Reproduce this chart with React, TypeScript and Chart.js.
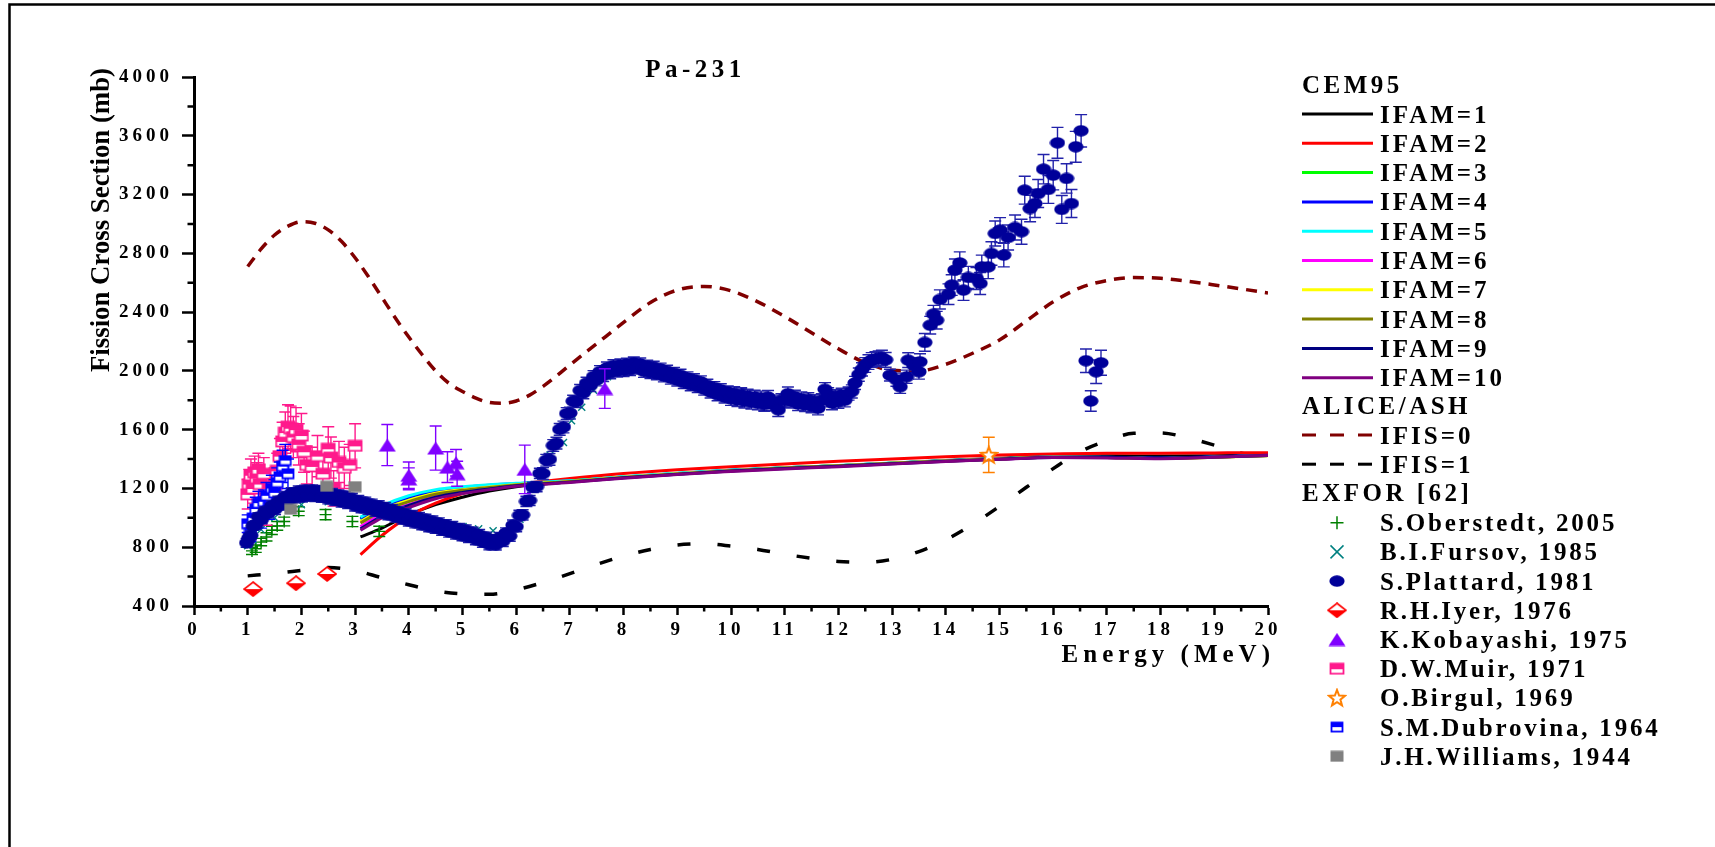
import React, { useEffect, useRef } from 'react';
import { Chart, registerables } from 'chart.js';

Chart.register(...registerables);

const SERIF = '"Liberation Serif", "Times New Roman", Times, serif';

// ---------- text ----------
const TITLE = 'Pa-231';
const X_TITLE = 'Energy (MeV)';
const Y_TITLE = 'Fission Cross Section (mb)';
const LEGEND_HEADERS = ['CEM95', 'ALICE/ASH', 'EXFOR [62]'];

// ---------- ticks ----------
const X_TICKS = [0, 1, 2, 3, 4, 5, 6, 7, 8, 9, 10, 11, 12, 13, 14, 15, 16, 17, 18, 19, 20];
const X_MINOR = [0.5, 1.5, 2.5, 3.5, 4.5, 5.5, 6.5, 7.5, 8.5, 9.5, 10.5, 11.5, 12.5, 13.5, 14.5, 15.5, 16.5, 17.5, 18.5, 19.5];
const Y_TICKS = [400, 800, 1200, 1600, 2000, 2400, 2800, 3200, 3600, 4000];
const Y_MINOR = [600, 1000, 1400, 1800, 2200, 2600, 3000, 3400, 3800];

// ---------- CEM95 curves ----------
const CEM_E = [3.1, 3.5, 4, 4.5, 5, 5.5, 6, 7, 8, 9, 10, 11, 12, 13, 14, 15, 16, 17, 18, 19, 20];
const CEM_LABELS = ['IFAM=1', 'IFAM=2', 'IFAM=3', 'IFAM=4', 'IFAM=5', 'IFAM=6', 'IFAM=7', 'IFAM=8', 'IFAM=9', 'IFAM=10'];
const CEM_COLORS = ['#000000', '#FF0000', '#00FF00', '#0000FF', '#00FFFF', '#FF00FF', '#FFFF00', '#808000', '#000080', '#800080'];
const IFAM1 = [870, 930, 1020, 1090, 1140, 1182, 1212, 1245, 1275, 1300, 1322, 1340, 1355, 1372, 1390, 1405, 1418, 1422, 1420, 1422, 1428];
const IFAM2 = [750, 880, 1010, 1100, 1165, 1205, 1228, 1268, 1302, 1328, 1348, 1367, 1385, 1400, 1415, 1427, 1435, 1440, 1440, 1442, 1443];
const IFAM3 = [990, 1070, 1135, 1180, 1203, 1220, 1230, 1250, 1278, 1302, 1323, 1340, 1355, 1372, 1388, 1402, 1414, 1412, 1405, 1413, 1425];
const IFAM4 = [995, 1075, 1140, 1185, 1207, 1222, 1232, 1250, 1278, 1302, 1323, 1340, 1355, 1372, 1388, 1402, 1414, 1413, 1407, 1415, 1426];
const IFAM5 = [1005, 1082, 1150, 1192, 1212, 1226, 1235, 1252, 1279, 1303, 1324, 1341, 1356, 1373, 1388, 1402, 1413, 1410, 1404, 1414, 1424];
const IFAM6 = [940, 1025, 1090, 1145, 1178, 1200, 1220, 1245, 1274, 1298, 1320, 1338, 1353, 1370, 1386, 1400, 1412, 1410, 1404, 1413, 1425];
const IFAM7 = [975, 1055, 1120, 1168, 1192, 1210, 1226, 1248, 1276, 1300, 1321, 1339, 1354, 1371, 1387, 1401, 1413, 1411, 1403, 1412, 1422];
const IFAM8 = [965, 1045, 1110, 1160, 1187, 1207, 1224, 1247, 1275, 1299, 1321, 1339, 1354, 1371, 1387, 1401, 1413, 1411, 1404, 1413, 1424];
const IFAM9 = [925, 1010, 1085, 1140, 1173, 1197, 1218, 1243, 1272, 1297, 1318, 1336, 1351, 1368, 1385, 1399, 1411, 1412, 1407, 1414, 1425];
const IFAM10 = [915, 1000, 1070, 1130, 1165, 1192, 1215, 1240, 1270, 1295, 1315, 1333, 1348, 1366, 1383, 1398, 1410, 1408, 1402, 1412, 1424];
const CEM_VALUES = [IFAM1, IFAM2, IFAM3, IFAM4, IFAM5, IFAM6, IFAM7, IFAM8, IFAM9, IFAM10];

// ---------- ALICE/ASH curves ----------
const IFIS_LABELS = ['IFIS=0', 'IFIS=1'];
const IFIS_COLORS = ['#800000', '#000000'];
const IFIS0_E = [1, 1.25, 1.5, 1.75, 2, 2.25, 2.5, 2.75, 3, 3.25, 3.5, 3.75, 4, 4.25, 4.5, 4.75, 5, 5.25, 5.5, 5.75, 6, 6.25, 6.5, 6.75, 7, 7.5, 8, 8.5, 9, 9.5, 10, 10.5, 11, 11.5, 12, 12.5, 13, 13.5, 14, 14.5, 15, 15.5, 16, 16.5, 17, 17.5, 18, 18.5, 19, 19.5, 20];
const IFIS0_V = [2710, 2830, 2925, 2985, 3015, 3005, 2960, 2880, 2770, 2640, 2500, 2360, 2230, 2110, 2000, 1915, 1860, 1815, 1785, 1780, 1795, 1835, 1895, 1965, 2040, 2185, 2330, 2465, 2550, 2575, 2545, 2470, 2370, 2260, 2150, 2055, 2005, 2000, 2045, 2120, 2210, 2340, 2470, 2565, 2615, 2635, 2630, 2610, 2585, 2558, 2530];
const IFIS1_E = [1, 1.5, 2, 2.5, 3, 3.5, 4, 4.5, 5, 5.5, 6, 6.5, 7, 7.5, 8, 8.5, 9, 9.5, 10, 10.5, 11, 11.5, 12, 12.5, 13, 13.5, 14, 14.5, 15, 15.5, 16, 16.5, 17, 17.5, 18, 18.5, 19, 19.5, 20];
const IFIS1_V = [605, 622, 642, 662, 642, 592, 545, 503, 483, 480, 510, 560, 620, 683, 740, 785, 815, 823, 808, 785, 752, 725, 703, 697, 718, 770, 850, 955, 1078, 1208, 1335, 1450, 1525, 1575, 1578, 1545, 1495, 1440, 1415];

// ---------- EXFOR data: [E, sigma, dSigma, dE] ----------
const EXFOR_LABELS = ['S.Oberstedt, 2005', 'B.I.Fursov, 1985', 'S.Plattard, 1981', 'R.H.Iyer, 1976', 'K.Kobayashi, 1975', 'D.W.Muir, 1971', 'O.Birgul, 1969', 'S.M.Dubrovina, 1964', 'J.H.Williams, 1944'];

const OBERSTEDT = [[1.08, 775, 25], [1.15, 790, 25], [1.25, 835, 25], [1.35, 870, 28], [1.45, 915, 28], [1.55, 945, 30], [1.68, 975, 30], [1.95, 1045, 30], [2.45, 1022, 35], [2.95, 975, 35], [3.45, 908, 35]];

const FURSOV = [[1.0, 810], [1.1, 850], [1.25, 920], [1.5, 1000], [2.0, 1090], [2.5, 1110], [3.0, 1080], [3.5, 1030], [4.0, 985], [4.5, 950], [4.83, 950], [5.01, 940], [5.3, 925], [5.57, 912], [5.85, 885], [6.07, 990], [6.35, 1200], [6.63, 1427], [6.88, 1513], [7.03, 1661], [7.22, 1752], [7.44, 1869], [7.7, 1960]];

const PLATTARD = [
  [0.98, 830, 30], [1.02, 862, 30], [1.06, 880, 30], [1.10, 945, 30], [1.15, 950, 30], [1.20, 1005, 30], [1.26, 990, 30], [1.32, 1045, 30], [1.38, 1030, 30], [1.45, 1082, 35],
  [1.51, 1058, 35], [1.57, 1112, 35], [1.63, 1088, 35], [1.69, 1142, 35], [1.76, 1118, 35], [1.82, 1170, 35], [1.88, 1138, 35], [1.95, 1182, 35], [2.01, 1143, 35], [2.07, 1187, 35],
  [2.13, 1150, 35], [2.20, 1188, 35], [2.26, 1146, 35], [2.32, 1185, 35], [2.38, 1140, 35], [2.44, 1177, 35], [2.50, 1130, 35], [2.57, 1165, 35], [2.63, 1118, 35], [2.69, 1155, 35],
  [2.75, 1108, 35], [2.81, 1146, 35], [2.87, 1098, 35], [2.94, 1132, 35], [3.00, 1082, 35], [3.06, 1117, 35], [3.12, 1070, 35], [3.19, 1106, 35], [3.25, 1057, 35], [3.31, 1092, 35],
  [3.38, 1045, 35], [3.44, 1081, 35], [3.50, 1034, 35], [3.56, 1070, 35], [3.62, 1022, 35], [3.69, 1056, 35], [3.75, 1006, 35], [3.81, 1041, 35], [3.88, 992, 35], [3.94, 1027, 35],
  [4.00, 979, 35], [4.06, 1015, 35], [4.12, 967, 35], [4.19, 1002, 35], [4.25, 954, 35], [4.31, 989, 35], [4.38, 940, 35], [4.44, 977, 35], [4.50, 929, 35], [4.56, 965, 35],
  [4.62, 916, 35], [4.69, 952, 35], [4.75, 904, 35], [4.81, 940, 35], [4.88, 891, 35], [4.94, 927, 35], [5.00, 879, 35], [5.06, 916, 35], [5.12, 867, 35], [5.19, 902, 35],
  [5.25, 852, 35], [5.31, 886, 35], [5.38, 835, 35], [5.44, 868, 35], [5.50, 817, 35], [5.56, 851, 35], [5.62, 816, 35], [5.69, 866, 35], [5.75, 840, 35], [5.81, 897, 35],
  [5.88, 876, 35], [5.94, 950, 35], [6.00, 940, 35], [6.06, 1017, 35], [6.12, 1020, 35], [6.19, 1112, 35], [6.25, 1118, 35], [6.31, 1207, 35], [6.38, 1212, 35], [6.44, 1302, 35],
  [6.50, 1302, 40], [6.56, 1392, 40], [6.62, 1398, 40], [6.69, 1492, 40], [6.75, 1508, 40], [6.81, 1602, 40], [6.88, 1618, 40], [6.94, 1710, 40], [7.00, 1713, 40], [7.06, 1794, 40],
  [7.12, 1790, 40], [7.19, 1867, 40], [7.25, 1850, 40], [7.31, 1917, 40], [7.38, 1900, 40], [7.44, 1962, 40], [7.50, 1938, 40], [7.56, 1996, 40], [7.62, 1968, 40], [7.69, 2021, 40],
  [7.75, 1987, 40], [7.81, 2036, 40], [7.88, 1998, 40], [7.94, 2042, 40], [8.00, 2002, 40], [8.06, 2047, 40], [8.12, 2008, 40], [8.19, 2055, 40], [8.25, 2018, 40], [8.31, 2048, 40],
  [8.38, 1996, 40], [8.44, 2033, 40], [8.50, 1988, 40], [8.56, 2026, 40], [8.62, 1979, 40], [8.69, 2013, 40], [8.75, 1965, 40], [8.81, 1998, 40], [8.88, 1950, 40], [8.94, 1984, 40],
  [9.00, 1937, 40], [9.06, 1971, 40], [9.12, 1920, 40], [9.19, 1953, 40], [9.25, 1905, 40], [9.31, 1941, 40], [9.38, 1892, 40], [9.44, 1926, 40], [9.50, 1875, 40], [9.56, 1903, 40],
  [9.62, 1855, 40], [9.69, 1887, 40], [9.75, 1837, 40], [9.81, 1872, 40], [9.88, 1821, 40], [9.94, 1857, 40], [10.00, 1810, 45], [10.06, 1848, 45], [10.12, 1802, 45], [10.19, 1840, 45],
  [10.25, 1792, 45], [10.31, 1830, 45], [10.38, 1785, 45], [10.44, 1823, 45], [10.50, 1780, 45], [10.56, 1817, 45], [10.62, 1770, 45], [10.69, 1822, 45], [10.75, 1774, 45], [10.81, 1790, 45],
  [10.88, 1735, 45], [10.94, 1800, 45], [11.00, 1798, 45], [11.06, 1845, 45], [11.12, 1792, 45], [11.19, 1823, 45], [11.25, 1775, 45], [11.31, 1812, 45], [11.38, 1768, 45], [11.44, 1806, 45],
  [11.50, 1760, 45], [11.56, 1793, 45], [11.62, 1746, 45], [11.69, 1800, 45], [11.75, 1875, 45], [11.81, 1840, 45], [11.88, 1781, 45], [11.94, 1827, 45], [12.00, 1790, 45], [12.06, 1837, 45],
  [12.12, 1800, 45], [12.19, 1846, 45], [12.25, 1860, 45], [12.31, 1918, 45], [12.38, 1975, 45], [12.44, 2010, 45], [12.50, 2040, 50], [12.56, 2060, 50], [12.62, 2074, 50], [12.69, 2080, 50],
  [12.75, 2086, 50], [12.81, 2090, 50], [12.88, 2075, 50], [12.96, 1971, 40], [13.08, 1940, 45], [13.15, 1892, 45], [13.27, 1960, 45], [13.30, 2073, 50], [13.40, 2040, 50], [13.50, 1994, 50],
  [13.52, 2062, 55], [13.61, 2194, 60], [13.71, 2311, 60], [13.77, 2386, 60], [13.83, 2345, 60], [13.89, 2486, 65], [14.05, 2522, 70], [14.11, 2584, 70], [14.17, 2686, 75], [14.26, 2735, 75],
  [14.33, 2550, 70], [14.42, 2636, 75], [14.57, 2629, 75], [14.64, 2595, 75], [14.67, 2708, 80], [14.79, 2708, 80], [14.85, 2799, 80], [14.92, 2935, 85], [15.01, 2958, 85], [15.08, 2788, 80],
  [15.16, 2908, 85], [15.29, 2976, 85], [15.41, 2947, 85], [15.47, 3230, 95], [15.57, 3105, 90], [15.66, 3139, 95], [15.72, 3207, 95], [15.82, 3373, 100], [15.91, 3235, 95], [16.00, 3332, 100],
  [16.08, 3552, 105], [16.16, 3099, 95], [16.25, 3310, 100], [16.34, 3139, 95], [16.42, 3525, 105], [16.52, 3634, 110], [16.61, 2069, 80], [16.70, 1795, 70], [16.80, 1994, 80], [16.89, 2055, 85]
];

const IYER = [[1.1, 515], [1.9, 555], [2.48, 618]];

const KOBAYASHI = [[3.6, 1495, 140], [4.0, 1290, 90], [4.0, 1265, 75], [4.5, 1475, 150], [4.72, 1345, 105], [4.88, 1375, 90], [4.9, 1300, 85], [6.16, 1330, 165], [7.65, 1880, 135]];

const MUIR = [
  [1.0, 1160, 100, 0.1], [1.03, 1230, 100, 0.1], [1.06, 1290, 110, 0.1], [1.1, 1200, 100, 0.1], [1.13, 1310, 110, 0.1], [1.17, 1270, 105, 0.1],
  [1.2, 1330, 110, 0.1], [1.23, 1230, 100, 0.1], [1.27, 1100, 100, 0.1], [1.3, 1300, 110, 0.1], [1.35, 1050, 100, 0.1], [1.4, 1200, 110, 0.1],
  [1.45, 1150, 100, 0.1], [1.5, 1230, 110, 0.1], [1.55, 1320, 120, 0.1], [1.6, 1420, 120, 0.1], [1.65, 1520, 130, 0.1], [1.7, 1580, 140, 0.1],
  [1.75, 1620, 150, 0.1], [1.8, 1610, 150, 0.1], [1.85, 1550, 140, 0.1], [1.9, 1600, 150, 0.1], [1.95, 1500, 140, 0.1], [2.0, 1560, 150, 0.1],
  [2.05, 1450, 140, 0.1], [2.1, 1360, 130, 0.1], [2.2, 1350, 130, 0.1], [2.3, 1420, 140, 0.1], [2.4, 1300, 130, 0.1], [2.5, 1470, 150, 0.1],
  [2.55, 1410, 140, 0.1], [2.6, 1200, 120, 0.1], [2.7, 1380, 140, 0.1], [2.8, 1340, 140, 0.1], [2.9, 1360, 140, 0.1], [3.0, 1490, 150, 0.1]
];

const BIRGUL = [[14.8, 1428, 120]];

const DUBROVINA = [[1.0, 960, 60], [1.05, 900, 60], [1.1, 1000, 70], [1.15, 1060, 80], [1.2, 1100, 80], [1.25, 1000, 70], [1.3, 1110, 80], [1.35, 1150, 90], [1.4, 1080, 90], [1.45, 1200, 90], [1.5, 1170, 90], [1.55, 1240, 100], [1.6, 1280, 100], [1.65, 1350, 110], [1.7, 1390, 110], [1.75, 1300, 100]];

const WILLIAMS = [[1.8, 1058], [2.47, 1215], [3.0, 1212]];

const EXFOR_COLORS = ['#008000', '#008080', '#000099', '#FF0000', '#8000FF', '#FF1A8C', '#FF8000', '#0000FF', '#808080'];

// ---------- markers ----------
type Mk = HTMLCanvasElement;
function mk(w: number, h: number, draw: (c: CanvasRenderingContext2D) => void): Mk {
  const c = document.createElement('canvas');
  c.width = w; c.height = h;
  const ctx = c.getContext('2d')!;
  draw(ctx);
  return c;
}
function makeMarkers() {
  const ellipse = mk(16, 12, (c) => {
    c.fillStyle = EXFOR_COLORS[2];
    c.beginPath(); c.ellipse(8, 6, 7.6, 5.7, 0, 0, Math.PI * 2); c.fill();
  });
  const diamond = mk(20, 16, (c) => {
    const col = EXFOR_COLORS[3];
    c.beginPath(); c.moveTo(10, 1); c.lineTo(19, 8); c.lineTo(10, 15); c.lineTo(1, 8); c.closePath();
    c.fillStyle = '#fff'; c.fill();
    c.save(); c.clip(); c.fillStyle = col; c.fillRect(0, 8, 20, 8); c.restore();
    c.strokeStyle = col; c.lineWidth = 1.6; c.stroke();
  });
  const triangle = mk(18, 14, (c) => {
    c.fillStyle = EXFOR_COLORS[4];
    c.beginPath(); c.moveTo(9, 0.5); c.lineTo(17.5, 13.5); c.lineTo(0.5, 13.5); c.closePath(); c.fill();
  });
  const halfSquare = (col: string, w: number, h: number) => mk(w, h, (c) => {
    c.fillStyle = '#fff'; c.fillRect(1, 1, w - 2, h - 2);
    c.fillStyle = col; c.fillRect(1, 1, w - 2, Math.round(h / 2) - 1);
    c.strokeStyle = col; c.lineWidth = 1.8; c.strokeRect(1.5, 1.5, w - 3, h - 3);
  });
  const muirSq = halfSquare(EXFOR_COLORS[5], 16, 13);
  const dubSq = halfSquare(EXFOR_COLORS[7], 14, 12);
  const star = mk(20, 20, (c) => {
    const col = EXFOR_COLORS[6];
    c.beginPath();
    for (let i = 0; i < 10; i++) {
      const r = i % 2 === 0 ? 8.5 : 3.6;
      const a = -Math.PI / 2 + (i * Math.PI) / 5;
      const px = 10 + r * Math.cos(a), py = 10.5 + r * Math.sin(a);
      if (i === 0) c.moveTo(px, py); else c.lineTo(px, py);
    }
    c.closePath();
    c.fillStyle = '#fff'; c.fill();
    c.strokeStyle = col; c.lineWidth = 2; c.stroke();
  });
  const graySq = mk(14, 12, (c) => { c.fillStyle = EXFOR_COLORS[8]; c.fillRect(0.5, 0.5, 13, 11); });
  return { ellipse, diamond, triangle, muirSq, dubSq, star, graySq };
}

const xyPts = (rows: number[][]) => rows.map((r) => ({ x: r[0], y: r[1] }));
const xyArr = (E: number[], V: number[]) => E.map((e, i) => ({ x: e, y: V[i] }));

function drawCross(ctx: CanvasRenderingContext2D, x: number, y: number, r: number, col: string, rot: boolean) {
  ctx.save(); ctx.strokeStyle = col; ctx.lineWidth = 1.5; ctx.beginPath();
  if (rot) { ctx.moveTo(x - r, y - r); ctx.lineTo(x + r, y + r); ctx.moveTo(x + r, y - r); ctx.lineTo(x - r, y + r); }
  else { ctx.moveTo(x - r, y); ctx.lineTo(x + r, y); ctx.moveTo(x, y - r); ctx.lineTo(x, y + r); }
  ctx.stroke(); ctx.restore();
}

export default function App() {
  const ref = useRef<HTMLCanvasElement>(null);
  useEffect(() => {
    const canvas = ref.current!;
    const M = makeMarkers();

    const errMap: Record<string, { pts: number[][]; color: string; cap: number; lw: number }> = {
      [EXFOR_LABELS[0]]: { pts: OBERSTEDT, color: EXFOR_COLORS[0], cap: 6, lw: 1.4 },
      [EXFOR_LABELS[2]]: { pts: PLATTARD, color: '#2222AA', cap: 6, lw: 1.4 },
      [EXFOR_LABELS[4]]: { pts: KOBAYASHI, color: EXFOR_COLORS[4], cap: 6, lw: 1.4 },
      [EXFOR_LABELS[5]]: { pts: MUIR, color: EXFOR_COLORS[5], cap: 6, lw: 1.4 },
      [EXFOR_LABELS[6]]: { pts: BIRGUL, color: EXFOR_COLORS[6], cap: 6, lw: 1.4 },
      [EXFOR_LABELS[7]]: { pts: DUBROVINA, color: EXFOR_COLORS[7], cap: 6, lw: 1.4 },
    };

    const pointDs = (label: string, rows: number[][], style: any, extra: any = {}) => ({
      label, data: xyPts(rows), showLine: false, pointStyle: style, pointRadius: 6,
      pointBorderWidth: 0, pointBackgroundColor: 'rgba(0,0,0,0)', pointBorderColor: 'rgba(0,0,0,0)', ...extra,
    });

    const datasets: any[] = [
      pointDs(EXFOR_LABELS[6], BIRGUL, M.star),
      pointDs(EXFOR_LABELS[4], KOBAYASHI, M.triangle),
      pointDs(EXFOR_LABELS[3], IYER, M.diamond),
      pointDs(EXFOR_LABELS[8], WILLIAMS, M.graySq),
      pointDs(EXFOR_LABELS[2], PLATTARD, M.ellipse),
      pointDs(EXFOR_LABELS[7], DUBROVINA, M.dubSq),
      pointDs(EXFOR_LABELS[5], MUIR, M.muirSq),
      pointDs(EXFOR_LABELS[1], FURSOV, 'crossRot', { pointRadius: 5, pointBorderWidth: 1.4, pointBorderColor: EXFOR_COLORS[1] }),
      pointDs(EXFOR_LABELS[0], OBERSTEDT, 'cross', { pointRadius: 6, pointBorderWidth: 1.4, pointBorderColor: EXFOR_COLORS[0] }),
    ];
    for (let i = CEM_LABELS.length - 1; i >= 0; i--) {
      datasets.push({
        label: CEM_LABELS[i], data: xyArr(CEM_E, CEM_VALUES[i]), showLine: true, pointRadius: 0,
        borderColor: CEM_COLORS[i], borderWidth: 3, cubicInterpolationMode: 'monotone',
      });
    }
    datasets.push({
      label: IFIS_LABELS[0], data: xyArr(IFIS0_E, IFIS0_V), showLine: true, pointRadius: 0,
      borderColor: IFIS_COLORS[0], borderWidth: 3.5, borderDash: [11, 8], cubicInterpolationMode: 'monotone',
    });
    datasets.push({
      label: IFIS_LABELS[1], data: xyArr(IFIS1_E, IFIS1_V), showLine: true, pointRadius: 0,
      borderColor: IFIS_COLORS[1], borderWidth: 3.5, borderDash: [13, 27], cubicInterpolationMode: 'monotone',
    });

    const drawErr = (ctx: CanvasRenderingContext2D, xs: any, ys: any, e: { pts: number[][]; color: string; cap: number; lw: number }) => {
      ctx.save();
      ctx.strokeStyle = e.color; ctx.lineWidth = e.lw; ctx.setLineDash([]);
      ctx.beginPath();
      for (const p of e.pts) {
        const x = xs.getPixelForValue(p[0]);
        const y = ys.getPixelForValue(p[1]);
        const y1 = ys.getPixelForValue(p[1] - p[2]);
        const y2 = ys.getPixelForValue(p[1] + p[2]);
        ctx.moveTo(x, y1); ctx.lineTo(x, y2);
        ctx.moveTo(x - e.cap, y1); ctx.lineTo(x + e.cap, y1);
        ctx.moveTo(x - e.cap, y2); ctx.lineTo(x + e.cap, y2);
        if (p[3]) {
          const xa = xs.getPixelForValue(p[0] - p[3]);
          const xb = xs.getPixelForValue(p[0] + p[3]);
          ctx.moveTo(xa, y); ctx.lineTo(xb, y);
          ctx.moveTo(xa, y - 5); ctx.lineTo(xa, y + 5);
          ctx.moveTo(xb, y - 5); ctx.lineTo(xb, y + 5);
        }
      }
      ctx.stroke();
      ctx.restore();
    };

    const decor = {
      id: 'decor',
      beforeDraw(chart: any) {
        const { ctx, width, height } = chart;
        ctx.save();
        ctx.fillStyle = '#fff'; ctx.fillRect(0, 0, width, height);
        ctx.strokeStyle = '#000'; ctx.lineWidth = 2.5;
        ctx.beginPath(); ctx.moveTo(9.5, height); ctx.lineTo(9.5, 4.5); ctx.lineTo(width, 4.5); ctx.stroke();
        ctx.restore();
        (ctx as any).letterSpacing = '4px';
      },
      beforeDatasetDraw(chart: any, args: any) {
        const ds = chart.data.datasets[args.index];
        const e = errMap[ds.label];
        if (e) drawErr(chart.ctx, chart.scales.x, chart.scales.y, e);
      },
      afterDraw(chart: any) {
        const ctx: CanvasRenderingContext2D = chart.ctx;
        const xs = chart.scales.x, ys = chart.scales.y;
        const ls = (v: string) => { (ctx as any).letterSpacing = v; };
        ctx.save();
        // minor ticks
        ctx.strokeStyle = '#000'; ctx.lineWidth = 2.5; ctx.setLineDash([]);
        ctx.beginPath();
        for (const v of X_MINOR) { const px = xs.getPixelForValue(v); ctx.moveTo(px, xs.top); ctx.lineTo(px, xs.top + 5.5); }
        for (const v of Y_MINOR) { const py = ys.getPixelForValue(v); ctx.moveTo(ys.right, py); ctx.lineTo(ys.right - 6.5, py); }
        ctx.stroke();

        ctx.fillStyle = '#000';
        // title
        ctx.font = `bold 25px ${SERIF}`; ls('4.5px'); ctx.textAlign = 'center'; ctx.textBaseline = 'alphabetic';
        ctx.fillText(TITLE, 695.5, 77);
        // x title
        ls('5px'); ctx.textAlign = 'right';
        ctx.fillText(X_TITLE, 1275, 662);
        // y title
        ctx.save();
        ls('0px'); ctx.font = `bold 26.8px ${SERIF}`; ctx.textAlign = 'left';
        ctx.translate(108.5, 372); ctx.rotate(-Math.PI / 2);
        ctx.fillText(Y_TITLE, 0, 0);
        ctx.restore();

        // legend
        const LX = 1302, LX2 = 1373, TX = 1380, MX = 1337;
        ctx.textAlign = 'left';
        ctx.font = `bold 25px ${SERIF}`;
        ls('3.5px'); ctx.fillText(LEGEND_HEADERS[0], LX, 93);
        for (let i = 0; i < CEM_LABELS.length; i++) {
          const y = 114 + 29.3 * i;
          ctx.strokeStyle = CEM_COLORS[i]; ctx.lineWidth = 3; ctx.setLineDash([]);
          ctx.beginPath(); ctx.moveTo(LX, y); ctx.lineTo(LX2, y); ctx.stroke();
          ls('3px'); ctx.fillText(CEM_LABELS[i], TX, y + 8.5);
        }
        ls('3.5px'); ctx.fillText(LEGEND_HEADERS[1], LX, 414);
        for (let i = 0; i < IFIS_LABELS.length; i++) {
          const y = 435 + 29.2 * i;
          ctx.strokeStyle = IFIS_COLORS[i]; ctx.lineWidth = 3; ctx.setLineDash([14, 14]);
          ctx.beginPath(); ctx.moveTo(LX, y); ctx.lineTo(LX2, y); ctx.stroke();
          ctx.setLineDash([]);
          ls('3px'); ctx.fillText(IFIS_LABELS[i], TX, y + 8.5);
        }
        ls('3.5px'); ctx.fillText(LEGEND_HEADERS[2], LX, 501);
        const mks = [null, null, M.ellipse, M.diamond, M.triangle, M.muirSq, M.star, M.dubSq, M.graySq];
        for (let i = 0; i < EXFOR_LABELS.length; i++) {
          const y = 522.7 + 29.2 * i;
          if (i === 0) drawCross(ctx, MX, y, 6.5, EXFOR_COLORS[0], false);
          else if (i === 1) drawCross(ctx, MX, y, 6.5, EXFOR_COLORS[1], true);
          else { const m = mks[i] as HTMLCanvasElement; ctx.drawImage(m, MX - m.width / 2, y - m.height / 2); }
          ls('2.8px'); ctx.fillStyle = '#000'; ctx.fillText(EXFOR_LABELS[i], TX, y + 8.5);
        }
        ctx.restore();
      },
    };

    const tickFont = { family: SERIF, size: 19, weight: 'bold' as const };
    const chart = new Chart(canvas, {
      type: 'scatter',
      data: { datasets },
      options: {
        animation: false,
        responsive: false,
        maintainAspectRatio: false,
        devicePixelRatio: 1,
        events: [],
        layout: { padding: { left: 114, right: 447, top: 77, bottom: 191 } },
        plugins: { legend: { display: false }, tooltip: { enabled: false }, title: { display: false } },
        scales: {
          x: {
            type: 'linear', min: 0, max: 20,
            afterBuildTicks: (s: any) => { s.ticks = X_TICKS.map((v) => ({ value: v })); },
            afterFit: (s: any) => { s.height = 50; },
            ticks: { autoSkip: false, maxRotation: 0, font: tickFont, color: '#000', padding: 4, callback: (v: any) => String(v) },
            grid: { display: true, drawOnChartArea: false, drawTicks: true, tickLength: 9, tickWidth: 2.5, tickColor: '#000', color: '#000' },
            border: { display: true, color: '#000', width: 3 },
          },
          y: {
            type: 'linear', min: 400, max: 4000,
            afterBuildTicks: (s: any) => { s.ticks = Y_TICKS.map((v) => ({ value: v })); },
            afterFit: (s: any) => { s.width = 80; },
            ticks: { autoSkip: false, font: tickFont, color: '#000', padding: 9, callback: (v: any) => String(v) },
            grid: { display: true, drawOnChartArea: false, drawTicks: true, tickLength: 12, tickWidth: 2.5, tickColor: '#000', color: '#000' },
            border: { display: true, color: '#000', width: 3 },
          },
        },
      },
      plugins: [decor],
    } as any);
    return () => chart.destroy();
  }, []);

  return (
    <div style={{ position: 'absolute', left: 0, top: 0, width: 1715, height: 847, background: '#fff' }}>
      <canvas ref={ref} width={1715} height={847} style={{ display: 'block', width: 1715, height: 847 }} />
    </div>
  );
}
